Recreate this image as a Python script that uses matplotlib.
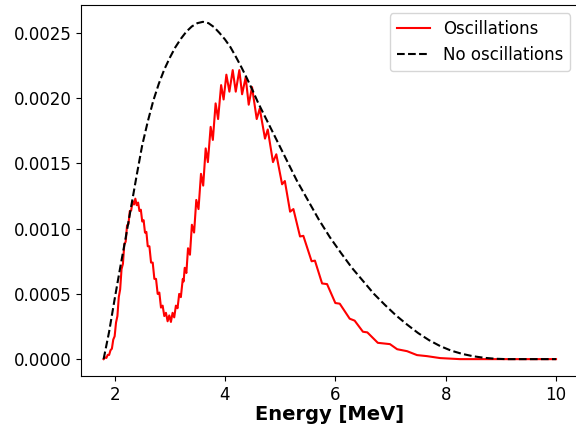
import matplotlib
matplotlib.use("Agg")
import matplotlib.pyplot as plt

# neutrino energy [MeV] and spectrum (units of 1e-3)
energy_noosc = [1.8, 1.9, 2.0, 2.1, 2.2, 2.3, 2.4, 2.5, 2.6, 2.7, 2.8, 2.9,
                3.0, 3.1, 3.2, 3.3, 3.4, 3.5, 3.6, 3.7, 3.8, 3.9, 4.0, 4.1,
                4.2, 4.3, 4.4, 4.5, 4.6, 4.7, 4.9, 5.1, 5.3, 5.5, 5.7, 5.9,
                6.1, 6.3, 6.5, 6.7, 6.9, 7.1, 7.3, 7.5, 7.7, 7.9, 8.1, 8.3,
                8.5, 8.7, 8.9, 9.1, 10.0]
flux_noosc = [0.0, 0.21, 0.46, 0.70, 0.93, 1.17, 1.41, 1.64, 1.82, 1.98, 2.11,
              2.22, 2.31, 2.39, 2.455, 2.51, 2.55, 2.575, 2.585, 2.575, 2.545,
              2.50, 2.45, 2.39, 2.315, 2.235, 2.15, 2.06, 1.965, 1.88, 1.71,
              1.54, 1.37, 1.22, 1.07, 0.935, 0.815, 0.70, 0.60, 0.50, 0.415,
              0.335, 0.265, 0.20, 0.145, 0.10, 0.065, 0.04, 0.022, 0.01, 0.003,
              0.0, 0.0]

energy_osc = [1.8, 1.825, 1.85, 1.875, 1.9, 1.925, 1.95, 1.975, 2.0, 2.025,
              2.05, 2.075, 2.1, 2.125, 2.15, 2.175, 2.2, 2.225, 2.25, 2.275,
              2.3, 2.325, 2.35, 2.375, 2.4, 2.425, 2.45, 2.475, 2.5, 2.525,
              2.55, 2.575, 2.6, 2.63, 2.66, 2.69, 2.72, 2.75, 2.78, 2.81,
              2.84, 2.87, 2.9, 2.93, 2.96, 2.99, 3.02, 3.05, 3.08, 3.11,
              3.14, 3.17, 3.2, 3.235, 3.25, 3.27, 3.3, 3.33, 3.365, 3.4,
              3.44, 3.48, 3.52, 3.565, 3.605, 3.65, 3.69, 3.74, 3.78, 3.83,
              3.875, 3.93, 3.975, 4.025, 4.08, 4.14, 4.195, 4.26, 4.31, 4.375,
              4.43, 4.49, 4.575, 4.63, 4.725, 4.775, 4.87, 4.93, 5.035, 5.085,
              5.18, 5.24, 5.36, 5.42, 5.57, 5.63, 5.76, 5.85, 6.0, 6.08,
              6.26, 6.35, 6.5, 6.58, 6.77, 6.99, 7.12, 7.3, 7.48, 7.66,
              7.9, 8.26, 10.0]
flux_osc = [0.0, 0.014, 0.009, 0.033, 0.032, 0.068, 0.080, 0.150, 0.175, 0.28,
            0.33, 0.475, 0.535, 0.69, 0.73, 0.88, 0.90, 1.025, 1.035, 1.135,
            1.14, 1.21, 1.185, 1.23, 1.18, 1.20, 1.135, 1.145, 1.055, 1.065,
            0.97, 0.975, 0.865, 0.865, 0.74, 0.74, 0.615, 0.615, 0.50, 0.51,
            0.395, 0.41, 0.33, 0.355, 0.29, 0.335, 0.285, 0.355, 0.32, 0.41,
            0.39, 0.50, 0.475, 0.615, 0.595, 0.70, 0.66, 0.85, 0.80, 1.03,
            0.97, 1.22, 1.15, 1.42, 1.33, 1.615, 1.51, 1.78, 1.68, 1.96,
            1.84, 2.10, 1.99, 2.18, 2.05, 2.215, 2.05, 2.215, 2.03, 2.16,
            1.95, 2.085, 1.84, 1.92, 1.69, 1.76, 1.51, 1.57, 1.34, 1.365,
            1.13, 1.15, 0.94, 0.945, 0.75, 0.755, 0.58, 0.575, 0.43, 0.425,
            0.31, 0.295, 0.21, 0.205, 0.125, 0.115, 0.076, 0.061, 0.031, 0.023,
            0.008, 0.0, 0.0]

y_noosc = [v * 1e-3 for v in flux_noosc]
y_osc = [v * 1e-3 for v in flux_osc]

fig = plt.figure(figsize=(5.76, 4.25), dpi=100)
ax = fig.add_axes([0.1406, 0.1153, 0.864, 0.873])
ax.plot(energy_osc, y_osc, 'r', lw=1.5, label='Oscillations')
ax.plot(energy_noosc, y_noosc, 'k--', lw=1.5, label='No oscillations')
ax.set_xlabel('Energy [MeV]', fontsize=14, fontweight='bold', labelpad=1)
ax.tick_params(labelsize=12)
ax.legend(loc='upper right', fontsize=12)
fig.savefig('out.png', dpi=100)
